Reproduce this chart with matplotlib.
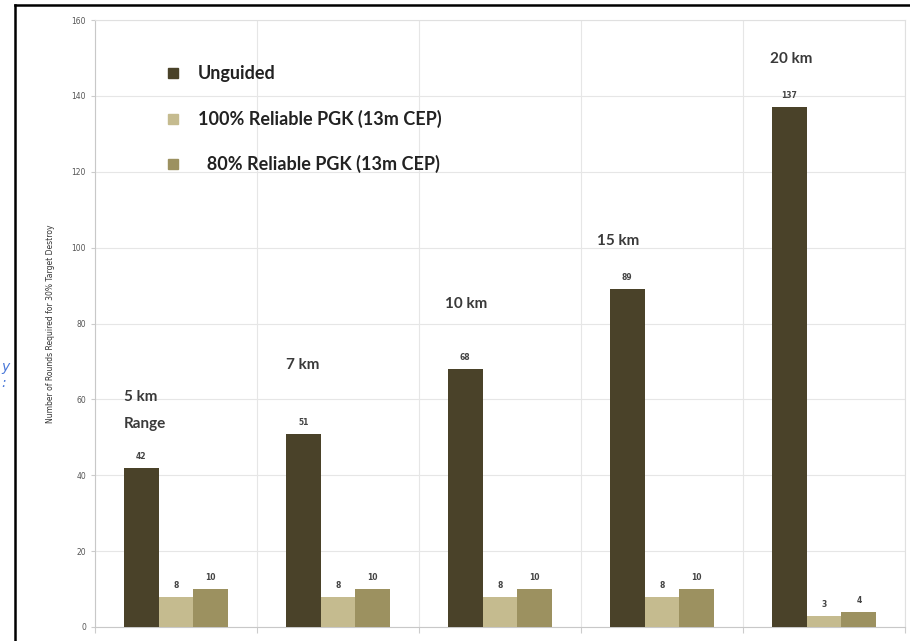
import matplotlib.pyplot as plt
import numpy as np
from matplotlib.lines import Line2D

# data
ranges = ['5 km\nRange', '7 km', '10 km', '15 km', '20 km']
unguided = [42, 51, 68, 89, 137]
pgk_100 = [8, 8, 8, 8, 3]
pgk_80 = [10, 10, 10, 10, 4]
series_names = ['Unguided', '100% Reliable PGK (13m CEP)', '  80% Reliable PGK (13m CEP)']

colors = ['#4a4229', '#c5bb8f', '#9c9160']
# where the range captions sit (data y, x shift from bar group)
range_text_y = [62.5, 71, 87, 103.5, 151.5]
range_text_dx = [0.0, 0.0, -0.02, -0.08, -0.01]

fig = plt.figure(figsize=(9.1, 6.41), dpi=100)
ax = fig.add_axes([95/910., 1-627/641., 810/910., 607/641.])

x = np.arange(len(ranges))
w = 0.215
groups = [unguided, pgk_100, pgk_80]
for i, vals in enumerate(groups):
    bars = ax.bar(x + (i-1)*w, vals, w, color=colors[i], zorder=3)
    for b, v in zip(bars, vals):
        ax.annotate(str(v), (b.get_x()+b.get_width()/2., v), xytext=(0, 5),
                    textcoords='offset points', ha='center', va='bottom',
                    fontsize=5.5, fontweight='bold', color='#444444')

for k, lab in enumerate(ranges):
    ax.text(x[k] - 1.5*w + range_text_dx[k], range_text_y[k], lab,
            ha='left', va='top', fontsize=11, fontweight='bold',
            family='Lato', color='#3a3a3a', linespacing=2.15)

ax.set_xlim(-0.5, len(ranges)-0.5)
ax.set_ylim(0, 160)
ax.set_yticks(np.arange(0, 161, 20))
ax.set_xticks(np.arange(-0.5, len(ranges), 1.0))
ax.set_xticklabels([])
ax.tick_params(axis='x', length=4, color='#cccccc')
ax.tick_params(axis='y', length=3, color='#cccccc', labelsize=5.5, labelcolor='#555555')
ax.grid(True, color='#e6e6e6', lw=0.8, zorder=0)
for s in ax.spines.values():
    s.set_color('#e0e0e0')
ax.spines['bottom'].set_color('#c8c8c8')
ax.spines['left'].set_color('#c8c8c8')

ax.set_ylabel('Number of Rounds Required for 30% Target Destroy',
              fontsize=5.5, color='#333333', labelpad=12)

handles = [Line2D([], [], ls='', marker='s', markersize=7, color=c) for c in colors]
ax.legend(handles, series_names, loc='upper left', bbox_to_anchor=(0.065, 0.952),
          frameon=False, handletextpad=0.9, labelspacing=1.52, handlelength=1.0,
          prop={'family': 'Lato', 'weight': 'bold', 'size': 13}, labelcolor='#222222')

# black frame left and top of the scan
fig.add_artist(Line2D([15/910., 15/910.], [0, 1-5/641.], color='black', lw=1.8))
fig.add_artist(Line2D([15/910., 1], [1-5/641., 1-5/641.], color='black', lw=1.8))
fig.text(0.001, 1-375/641., 'y\n:', color='#4a78d8', fontsize=10, style='italic',
         va='center', ha='left')

plt.savefig('out.png', dpi=100)
